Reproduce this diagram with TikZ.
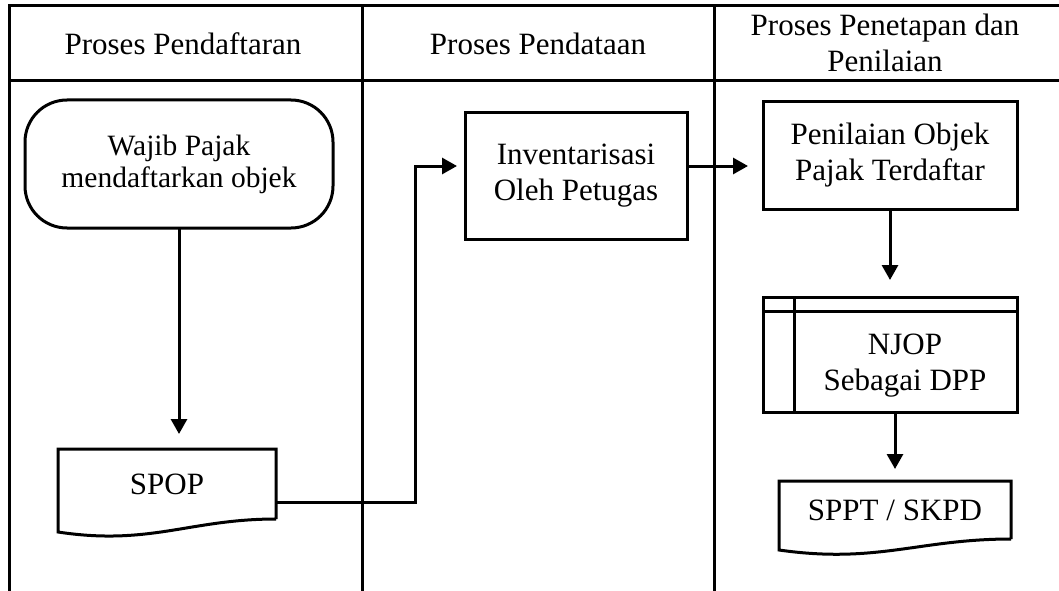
\documentclass[tikz,border=0pt]{standalone}
\usepackage{fontspec}
\setmainfont{Liberation Serif}
\usetikzlibrary{arrows.meta,positioning}

\begin{document}
\begin{tikzpicture}[x=1pt,y=1pt,line width=3pt,>={Triangle[length=15pt,width=16pt]},
box/.style={draw,inner sep=0pt,outer sep=0pt,align=center,font=\fontsize{31}{36}\selectfont},
docu/.style={inner sep=0pt,outer sep=0pt,align=center,font=\fontsize{31}{36}\selectfont}]
\useasboundingbox (0,0) rectangle (1059,-591);
% lanes
\draw (9,-591)--(9,-6)--(1059,-6);\draw (9,-81)--(1059,-81);
\draw (362,-6)--(362,-591);\draw (714,-6)--(714,-591);
\node[docu,anchor=base] (daftar) at (183,-55){Proses Pendaftaran};
\node[docu,anchor=base] (data) at (538,-55){Proses Pendataan};
\node[docu,anchor=base] (tetap) at (885,-36){Proses Penetapan dan};
\node[docu,anchor=base] (nilai) at (885,-72){Penilaian};
% first lane
\node[box,rounded corners=42pt,minimum width=308pt,minimum height=128pt,font=\fontsize{29.5}{32}\selectfont] (wp) at (179,-164){Wajib Pajak\\mendaftarkan objek};
\node[docu,minimum width=218pt,minimum height=70pt] (spop) at (167,-484){SPOP};
\draw (spop.south east)--(spop.north east)--(spop.north west)--([yshift=-13]spop.south west) .. controls ([xshift=92,yshift=-27]spop.south west) and ([xshift=132]spop.south west) .. (spop.south east);
% second lane
\node[box,minimum width=222pt,minimum height=126pt] (inv) at (576,-176){Inventarisasi\\Oleh Petugas};
% third lane
\node[box,minimum width=254pt,minimum height=107pt] (pen) at (890,-155.5){Penilaian Objek\\Pajak Terdaftar};
\node[box,minimum width=254pt,minimum height=115pt] (njop) at (890,-354.5){};
\draw ([yshift=-14]njop.north west)--([yshift=-14]njop.north east);\draw ([xshift=31]njop.north west)--([xshift=31]njop.south west);
\node[docu] (njoptxt) at (905,-366){NJOP\\Sebagai DPP};
\node[docu,minimum width=232pt,minimum height=58pt] (sppt) at (895,-510){SPPT / SKPD};
\draw (sppt.south east)--(sppt.north east)--(sppt.north west)--([yshift=-11]sppt.south west) .. controls ([xshift=98,yshift=-25]sppt.south west) and ([xshift=140]sppt.south west) .. (sppt.south east);
% flow
\draw[->,shorten >=15pt] (wp.south)--(wp.south |- spop.north);
\draw[->,shorten >=8pt] ([yshift=-18]spop.east)--++(139,0)|-([yshift=10]inv.west);
\coordinate (q1) at ([yshift=10]inv.east);
\draw[->,shorten >=15pt] (q1)--(q1 -| pen.west);
\draw[->,shorten >=17pt] (pen.south)--(njop.north);
\draw[->,shorten >=12pt] (sppt.north |- njop.south)--(sppt.north);
\end{tikzpicture}
\end{document}
